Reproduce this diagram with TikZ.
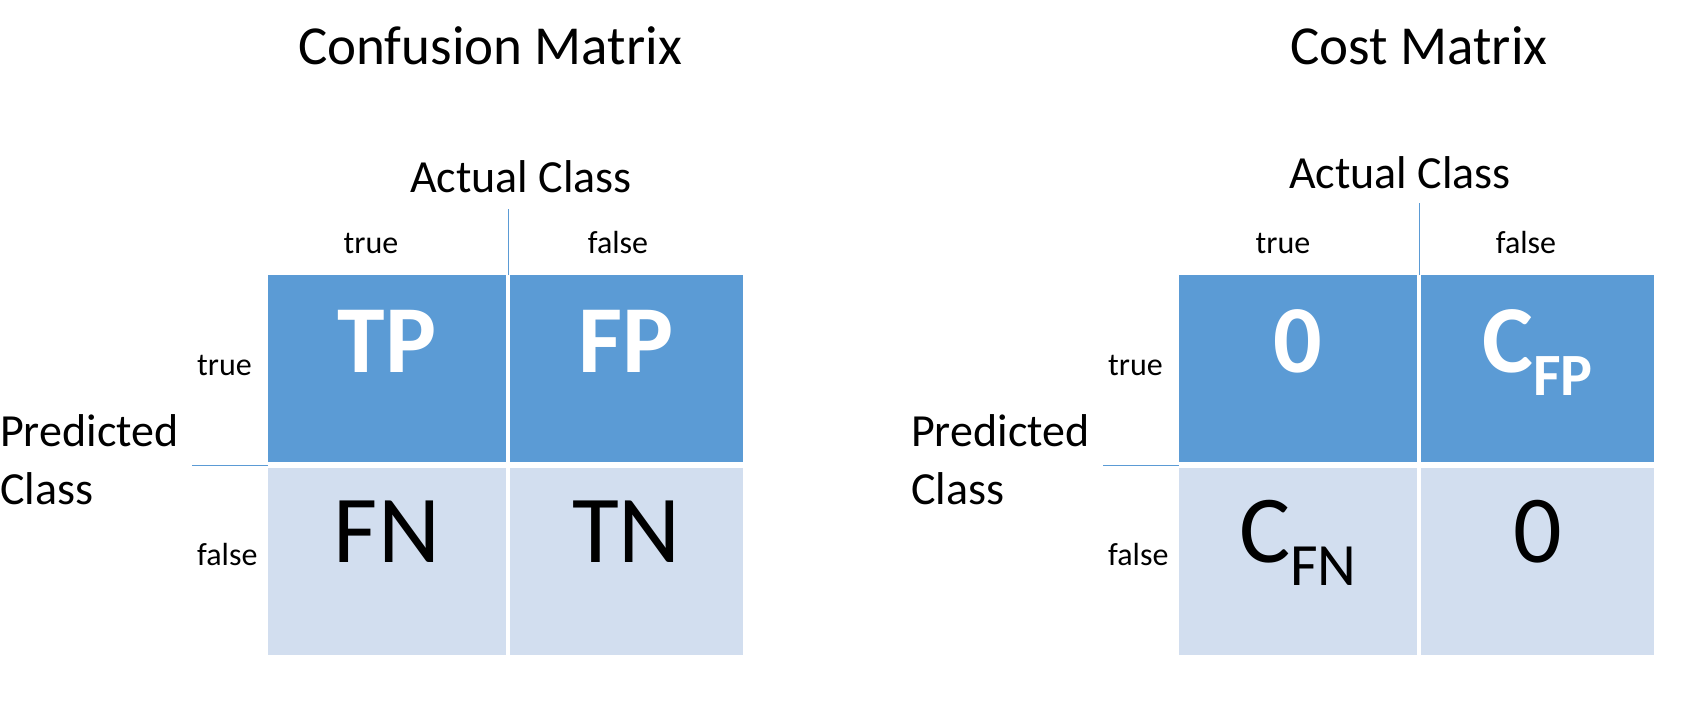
\documentclass[tikz,border=0pt]{standalone}
\usepackage{fontspec}
\setmainfont{Carlito}
\definecolor{cellblue}{HTML}{5B9BD5}
\definecolor{cellpale}{HTML}{D2DEEF}
\newcommand{\cellsub}[1]{\raisebox{-23pt}{\fontsize{60}{72}\selectfont #1}}

\begin{document}
\begin{tikzpicture}[x=1pt, y=-1pt,
  cell/.style={minimum width=#1, minimum height=187, inner sep=0, outer sep=0},
  hicell/.style={cell=#1, fill=cellblue},
  locell/.style={cell=#1, fill=cellpale},
  title/.style={font=\fontsize{55}{66}\selectfont, inner sep=0, anchor=base},
  axis/.style={font=\fontsize{46}{56}\selectfont, inner sep=0},
  tick/.style={font=\fontsize{32}{38}\selectfont, inner sep=0},
  hival/.style={font=\fontsize{96}{115}\selectfont\bfseries, text=white, inner sep=0, anchor=base},
  loval/.style={font=\fontsize{96}{115}\selectfont, inner sep=0, anchor=base},
  rule/.style={draw=cellblue, line width=1pt}]
  \useasboundingbox (0,0) rectangle (1684,710);

  % confusion matrix
  \node[title] (conf) at (490,64) {Confusion Matrix};
  \node[axis, anchor=base] (lact) at (521,192) {Actual Class};
  \node[tick, anchor=base] (lctrue) at (371,253) {true};
  \node[tick, anchor=base] (lcfalse) at (618,253) {false};
  \node[axis, anchor=base west] (lpred) at (0,446) {Predicted};
  \node[axis, anchor=base west] (lclass) at (0,504) {Class};
  \node[tick, anchor=base west] (lrtrue) at (197,375) {true};
  \node[tick, anchor=base west] (lrfalse) at (197,565) {false};

  \node[hicell=238] (tpbox) at (387,368.5) {};
  \node[hicell=233] (fpbox) at (626.5,368.5) {};
  \node[locell=238] (fnbox) at (387,561.5) {};
  \node[locell=233] (tnbox) at (626.5,561.5) {};
  \node[hival] (tp) at (387,372) {TP};
  \node[hival] (fp) at (626.5,372) {FP};
  \node[loval] (fn) at (387,562) {FN};
  \node[loval] (tn) at (626.5,562) {TN};

  \coordinate (lcut) at (508,209);
  \coordinate (lsplit) at (192,465);
  \draw[rule] (lcut) -- (lcut |- tpbox.north);
  \draw[rule] (lsplit) -- (lsplit -| tpbox.west);

  % cost matrix
  \node[title] (cost) at (1419,64) {Cost Matrix};
  \node[axis, anchor=base] (ract) at (1400,188) {Actual Class};
  \node[tick, anchor=base] (rctrue) at (1283,253) {true};
  \node[tick, anchor=base] (rcfalse) at (1526,253) {false};
  \node[axis, anchor=base west] (rpred) at (911,446) {Predicted};
  \node[axis, anchor=base west] (rclass) at (911,504) {Class};
  \node[tick, anchor=base west] (rrtrue) at (1108,375) {true};
  \node[tick, anchor=base west] (rrfalse) at (1108,565) {false};

  \node[hicell=238] (tzbox) at (1298,368.5) {};
  \node[hicell=233] (cfpbox) at (1537.5,368.5) {};
  \node[locell=238] (cfnbox) at (1298,561.5) {};
  \node[locell=233] (fzbox) at (1537.5,561.5) {};
  \node[hival] (tz) at (1298,372) {0};
  \node[hival] (cfp) at (1537.5,372) {C\cellsub{FP}};
  \node[loval] (cfn) at (1298,562) {C\cellsub{FN}};
  \node[loval] (fz) at (1537.5,562) {0};

  \coordinate (rcut) at (1419,203);
  \coordinate (rsplit) at (1103,465);
  \draw[rule] (rcut) -- (rcut |- tzbox.north);
  \draw[rule] (rsplit) -- (rsplit -| tzbox.west);
\end{tikzpicture}
\end{document}
